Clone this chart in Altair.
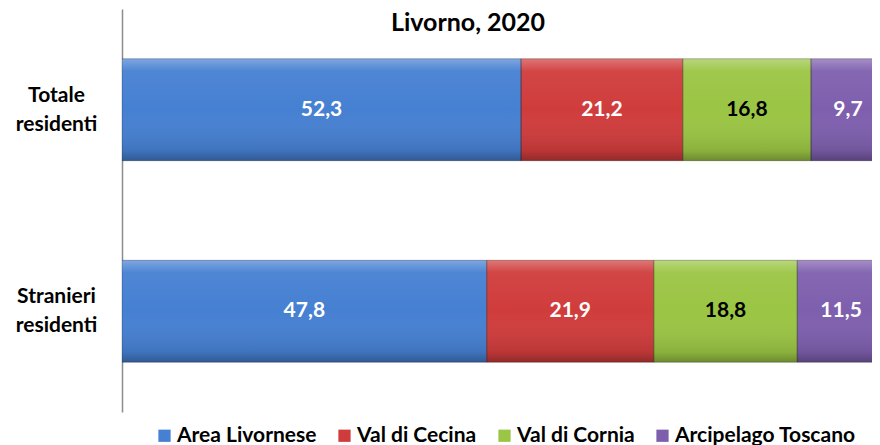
import altair as alt
import pandas as pd

title_text = "Livorno, 2020"
categories = ["Totale residenti", "Stranieri residenti"]
series = ["Area Livornese", "Val di Cecina", "Val di Cornia", "Arcipelago Toscano"]
values = {
    "Totale residenti": [52.3, 21.2, 16.8, 9.7],
    "Stranieri residenti": [47.8, 21.9, 18.8, 11.5],
}
colors = ["#4680d2", "#d03c3c", "#9bc544", "#7e5fae"]
text_colors = ["white", "white", "black", "white"]

rows = []
for c in categories:
    start = 0.0
    for i, s in enumerate(series):
        v = values[c][i]
        rows.append({
            "cat": c, "serie": s, "order": i, "v": v,
            "x0": start, "x1": start + v, "mid": start + v / 2,
            "label": f"{v:.1f}".replace(".", ","), "tcol": text_colors[i],
        })
        start += v
df = pd.DataFrame(rows)

FONT = "Lato"

y_enc = alt.Y("cat:N", sort=categories, title=None,
              scale=alt.Scale(paddingInner=0.494, paddingOuter=0.247),
              axis=alt.Axis(domainColor="#8c8c8c", domainWidth=1.5, ticks=False,
                            labelExpr="split(datum.label, ' ')",
                            labelFont=FONT, labelFontWeight="bold", labelFontSize=21,
                            labelColor="black", labelAlign="center", labelPadding=66,
                            labelLineHeight=29, labelBaseline="middle",
                            labelOffset=-14))
x_scale = alt.Scale(domain=[0, 98.3], nice=False, zero=True)

bars = alt.Chart(df).mark_bar(clip=True, strokeWidth=0.0).encode(
    y=y_enc,
    x=alt.X("x0:Q", scale=x_scale, axis=None),
    x2="x1:Q",
    color=alt.Color("serie:N", sort=series,
                    scale=alt.Scale(domain=series, range=colors),
                    legend=alt.Legend(orient="none", legendX=32, legendY=416,
                                      direction="horizontal", title=None,
                                      symbolType="square", symbolSize=150,
                                      symbolStrokeWidth=0,
                                      labelFont=FONT, labelFontWeight="bold",
                                      labelFontSize=21, labelColor="black",
                                      labelLimit=400,
                                      columnPadding=17, labelOffset=2)),
)

shade = alt.Chart(df).mark_bar(
    clip=True,
    color=alt.Gradient(
        gradient="linear", x1=0, y1=0, x2=0, y2=1,
        stops=[alt.GradientStop(offset=0, color="rgba(255,255,255,0.30)"),
               alt.GradientStop(offset=0.12, color="rgba(255,255,255,0.05)"),
               alt.GradientStop(offset=0.5, color="rgba(255,255,255,0.0)"),
               alt.GradientStop(offset=0.9, color="rgba(0,0,0,0.10)"),
               alt.GradientStop(offset=1, color="rgba(0,0,0,0.30)")]),
    stroke="rgba(0,0,0,0.25)", strokeWidth=1,
).encode(
    y=alt.Y("cat:N", sort=categories),
    x=alt.X("x0:Q", scale=x_scale),
    x2="x1:Q",
)

labels = alt.Chart(df).mark_text(font=FONT, fontWeight="bold", fontSize=21,
                                 baseline="middle", align="center").encode(
    y=alt.Y("cat:N", sort=categories),
    x=alt.X("mid:Q", scale=x_scale),
    text="label:N",
    color=alt.Color("tcol:N", scale=None),
)

title = alt.Chart(pd.DataFrame({"t": [title_text]})).mark_text(
    font=FONT, fontSize=25, fontWeight="bold", color="black",
    align="center", baseline="middle",
).encode(x=alt.value(346), y=alt.value(14), text="t:N")

chart = alt.layer(bars, shade, labels, title).properties(
    width=750, height=403,
    autosize=alt.AutoSizeParams(type="none"),
    padding={"left": 114, "top": 1, "right": 0, "bottom": 33},
).configure_view(stroke=None)

chart.save("out.html", embed_options={"renderer": "svg", "actions": False})
